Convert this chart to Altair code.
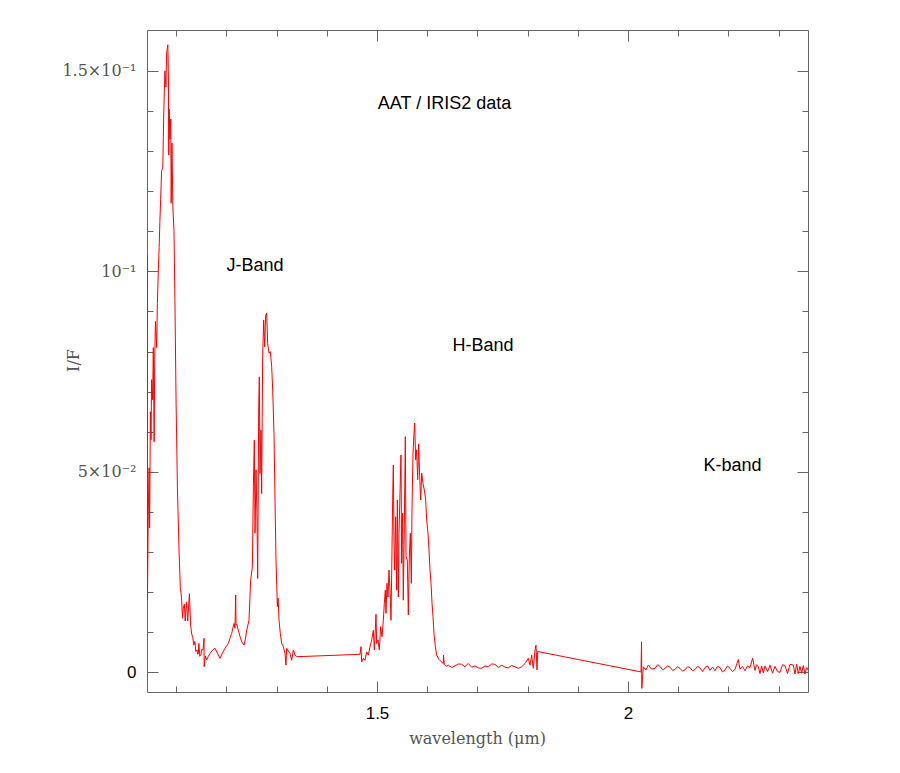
import altair as alt
import pandas as pd

# ---- spectrum (wavelength in micron, I/F) ----
wl = [
    1.0420, 1.0423, 1.0427, 1.0444, 1.0460, 1.0470, 1.0486, 1.0498, 1.0510, 1.0530,
    1.0544, 1.0560, 1.0572, 1.0586, 1.0610, 1.0625, 1.0643, 1.0660, 1.0675, 1.0690,
    1.0709, 1.0733, 1.0751, 1.0775, 1.0795, 1.0809, 1.0833, 1.0845, 1.0851, 1.0859,
    1.0875, 1.0891, 1.0899, 1.0916, 1.0932, 1.0956, 1.0974, 1.0998, 1.1024, 1.1056,
    1.1082, 1.1106, 1.1125, 1.1140, 1.1163, 1.1179, 1.1205, 1.1229, 1.1263, 1.1287,
    1.1310, 1.1329, 1.1350, 1.1371, 1.1390, 1.1412, 1.1430,
    1.1441, 1.1452, 1.1470, 1.1494, 1.1507, 1.1534, 1.1554, 1.1557, 1.1578, 1.1607,
    1.1640, 1.1673, 1.1720, 1.1773, 1.1820, 1.1873, 1.1920, 1.1972, 1.2038, 1.2070,
    1.2105, 1.2151, 1.2170, 1.2185, 1.2192, 1.2205, 1.2238, 1.2270, 1.2304, 1.2351,
    1.2380, 1.2404, 1.2450, 1.2483, 1.2517, 1.2537, 1.2556, 1.2570, 1.2590, 1.2610,
    1.2623, 1.2643, 1.2656, 1.2669, 1.2689, 1.2702, 1.2722, 1.2742, 1.2762, 1.2782,
    1.2802, 1.2822, 1.2849, 1.2875, 1.2902, 1.2922, 1.2948, 1.2968, 1.2988, 1.3015,
    1.3030, 1.3048, 1.3074, 1.3101, 1.3134, 1.3167, 1.3187, 1.3200, 1.3220, 1.3267,
    1.3300, 1.3333, 1.3367, 1.3406,
    1.4661, 1.4681, 1.4695, 1.4728, 1.4761, 1.4794, 1.4827, 1.4861, 1.4894, 1.4927,
    1.4947, 1.4980, 1.4993, 1.5020, 1.5046, 1.5073, 1.5100, 1.5126, 1.5146, 1.5166,
    1.5179, 1.5199, 1.5219, 1.5239, 1.5259, 1.5279, 1.5299, 1.5312, 1.5325, 1.5339,
    1.5352, 1.5372, 1.5392, 1.5405, 1.5425, 1.5438, 1.5458, 1.5478, 1.5491, 1.5511,
    1.5524, 1.5544, 1.5564, 1.5578, 1.5604, 1.5624, 1.5644, 1.5664, 1.5684, 1.5697,
    1.5717, 1.5737, 1.5750, 1.5770, 1.5790, 1.5810, 1.5830, 1.5850, 1.5870, 1.5890,
    1.5916, 1.5943, 1.5970, 1.5989, 1.6016, 1.6036, 1.6056, 1.6076, 1.6096, 1.6116,
    1.6135, 1.6162, 1.6189, 1.6228, 1.6268,
    1.6321, 1.6325, 1.6340, 1.6380, 1.6421, 1.6490, 1.6554, 1.6620, 1.6687, 1.6750,
    1.6819, 1.6885, 1.6952, 1.7020, 1.7085, 1.7150, 1.7218, 1.7285, 1.7351, 1.7420,
    1.7483, 1.7550, 1.7616, 1.7680, 1.7749, 1.7815, 1.7882, 1.7948, 1.8014, 1.8048,
    1.8081, 1.8114, 1.8147, 1.8167, 1.8187, 1.8201,
    2.0259, 2.0270, 2.0275, 2.0305, 2.0355, 2.0405, 2.0470, 2.0538, 2.0590, 2.0637,
    2.0690, 2.0737, 2.0790, 2.0837, 2.0890, 2.0936, 2.0985, 2.1036, 2.1085, 2.1135,
    2.1185, 2.1235, 2.1285, 2.1335, 2.1385, 2.1434, 2.1485, 2.1534, 2.1585, 2.1633,
    2.1683, 2.1733, 2.1783, 2.1833, 2.1883, 2.1932, 2.1982, 2.2032, 2.2080, 2.2131,
    2.2198, 2.2231, 2.2280, 2.2331, 2.2380, 2.2430, 2.2483, 2.2530, 2.2560, 2.2596,
    2.2630, 2.2663, 2.2696, 2.2729, 2.2780, 2.2829, 2.2880, 2.2928, 2.2978, 2.3028,
    2.3078, 2.3127, 2.3177, 2.3227, 2.3293, 2.3327, 2.3360, 2.3393, 2.3426, 2.3460,
    2.3492, 2.3525, 2.3559, 2.3590,
]
i_over_f = [
    0.0380, 0.1040, 0.0180, 0.0400, 0.0510, 0.0360, 0.0650, 0.0580, 0.0730, 0.0680,
    0.0810, 0.0575, 0.0780, 0.0875, 0.0810, 0.0920, 0.1000, 0.1060, 0.1125, 0.1180,
    0.1250, 0.1260, 0.1390, 0.1500, 0.1460, 0.1545, 0.1565, 0.1480, 0.1290, 0.1405,
    0.1330, 0.1380, 0.1170, 0.1320, 0.1165, 0.1100, 0.0927, 0.0668, 0.0460, 0.0305,
    0.0212, 0.0186, 0.0135, 0.0160, 0.0170, 0.0128, 0.0176, 0.0128, 0.0196, 0.0117,
    0.0095, 0.0087, 0.0068, 0.0077, 0.0052, 0.0056, 0.0045,
    0.0047, 0.0072, 0.0040, 0.0045, 0.0057, 0.0056, 0.0085, 0.0014, 0.0041, 0.0031,
    0.0040, 0.0047, 0.0055, 0.0060, 0.0048, 0.0035, 0.0048, 0.0060, 0.0072, 0.0085,
    0.0097, 0.0122, 0.0110, 0.0193, 0.0118, 0.0120, 0.0105, 0.0090, 0.0076, 0.0068,
    0.0085, 0.0105, 0.0130, 0.0230, 0.0263, 0.0463, 0.0579, 0.0347, 0.0505, 0.0380,
    0.0234, 0.0662, 0.0737, 0.0496, 0.0604, 0.0446, 0.0787, 0.0879, 0.0812, 0.0891,
    0.0896, 0.0820, 0.0796, 0.0800, 0.0762, 0.0704, 0.0596, 0.0430, 0.0280, 0.0164,
    0.0185, 0.0130, 0.0097, 0.0072, 0.0064, 0.0047, 0.0018, 0.0060, 0.0056, 0.0047,
    0.0030, 0.0056, 0.0043, 0.0039,
    0.0045, 0.0064, 0.0026, 0.0035, 0.0030, 0.0051, 0.0043, 0.0064, 0.0081, 0.0105,
    0.0056, 0.0145, 0.0072, 0.0081, 0.0056, 0.0114, 0.0089, 0.0130, 0.0172, 0.0205,
    0.0147, 0.0222, 0.0188, 0.0255, 0.0205, 0.0130, 0.0305, 0.0430, 0.0517, 0.0322,
    0.0255, 0.0388, 0.0205, 0.0430, 0.0188, 0.0347, 0.0446, 0.0542, 0.0272, 0.0397,
    0.0180, 0.0363, 0.0588, 0.0289, 0.0280, 0.0143, 0.0290, 0.0347, 0.0222, 0.0405,
    0.0546, 0.0596, 0.0622, 0.0530, 0.0555, 0.0480, 0.0570, 0.0488, 0.0430, 0.0497,
    0.0471, 0.0455, 0.0430, 0.0380, 0.0347, 0.0305, 0.0255, 0.0222, 0.0172, 0.0139,
    0.0097, 0.0064, 0.0043, 0.0033, 0.0028,
    0.0022, 0.0043, 0.0020, 0.0015, 0.0018, 0.0012, 0.0016, 0.0021, 0.0020, 0.0014,
    0.0022, 0.0013, 0.0016, 0.0011, 0.0010, 0.0016, 0.0014, 0.0021, 0.0020, 0.0012,
    0.0018, 0.0013, 0.0011, 0.0017, 0.0014, 0.0010, 0.0014, 0.0022, 0.0035, 0.0018,
    0.0043, 0.0010, 0.0056, 0.0068, 0.0006, 0.0052,
    0.0001, 0.0076, -0.0040, 0.0014, 0.0006, 0.0018, 0.0008, 0.0010, 0.0019, 0.0015,
    0.0006, 0.0010, 0.0016, 0.0013, 0.0005, 0.0007, 0.0014, 0.0010, 0.0003, 0.0006,
    0.0014, 0.0012, 0.0004, 0.0007, 0.0015, 0.0011, 0.0002, 0.0012, 0.0016, 0.0005,
    0.0013, 0.0004, 0.0015, 0.0012, 0.0001, 0.0006, 0.0016, 0.0010, 0.0002, 0.0007,
    0.0032, 0.0008, 0.0015, 0.0004, 0.0016, 0.0012, 0.0035, 0.0005, 0.0019, 0.0014,
    -0.0003, 0.0016, -0.0001, 0.0016, 0.0002, 0.0018, -0.0002, 0.0015, 0.0002, 0.0000,
    0.0019, 0.0017, -0.0003, 0.0020, 0.0018, -0.0004, 0.0020, -0.0003, 0.0015, -0.0002,
    0.0017, -0.0004, 0.0012, 0.0005,
]

# ---- annotations ----
note_text = ["AAT / IRIS2 data", "J-Band", "H-Band", "K-band"]
note_wl = [1.6345, 1.2570, 1.7112, 2.2082]
note_if = [0.1417, 0.1013, 0.0814, 0.0514]

# ---- axis ticks ----
x_major = [1.5, 2.0]
x_minor = [1.1, 1.2, 1.3, 1.4, 1.6, 1.7, 1.8, 1.9, 2.1, 2.2, 2.3]
y_major = [0.0, 0.05, 0.10, 0.15]
y_minor = [0.01, 0.02, 0.03, 0.04, 0.06, 0.07, 0.08, 0.09, 0.11, 0.12, 0.13, 0.14]
x_domain = [1.0418, 2.3586]
y_domain = [-0.0049, 0.1602]

df = pd.DataFrame({"wl": wl, "IF": i_over_f})
notes = pd.DataFrame({"wl": note_wl, "IF": note_if, "text": note_text})
dummy = pd.DataFrame({"wl": [1.5], "IF": [0.05]})

TICK = "#666666"
SERIF = "DejaVu Serif"
xs = alt.Scale(domain=x_domain, nice=False, zero=False)
ys = alt.Scale(domain=y_domain, nice=False, zero=False)

y_label_expr = (
    "datum.value < 0.01 ? '0' : datum.value < 0.07 ? '5×10⁻²' : "
    "datum.value < 0.12 ? '10⁻¹' : '1.5×10⁻¹'"
)

line = alt.Chart(df).mark_line(color="#ff0000", strokeWidth=1, clip=True).encode(
    x=alt.X("wl:Q", scale=xs, sort=None, axis=alt.Axis(
        orient="bottom", values=x_major, ticks=False, domain=False, grid=False,
        labelExpr="datum.value > 1.9 ? '2' : '1.5'",
        labelFont="Liberation Sans", labelFontSize=17, labelColor="black",
        labelPadding=13,
        title="wavelength (μm)", titleFont=SERIF, titleFontSize=16,
        titleFontWeight="normal", titleColor="#555555",
        titleX=330, titleY=46, titleBaseline="middle", titleAlign="center")),
    y=alt.Y("IF:Q", scale=ys, axis=alt.Axis(
        orient="left", values=y_major, ticks=False, domain=False, grid=False,
        labelExpr=y_label_expr,
        labelFont={"condition": {"test": "datum.value < 0.01", "value": "Liberation Sans"},
                   "value": SERIF},
        labelColor={"condition": {"test": "datum.value < 0.01", "value": "#000000"},
                    "value": "#555555"},
        labelFontSize={"condition": {"test": "datum.value < 0.01", "value": 17},
                       "value": 16},
        labelPadding=11,
        title="I/F", titleFont=SERIF, titleFontSize=16,
        titleFontWeight="normal", titleColor="#555555", titleAngle=270,
        titleX=-74, titleY=330, titleBaseline="middle", titleAlign="center")),
)

notes_layer = alt.Chart(notes).mark_text(
    font="Liberation Sans", fontSize=18, color="black", align="center", baseline="middle"
).encode(
    x=alt.X("wl:Q", scale=xs, axis=None),
    y=alt.Y("IF:Q", scale=ys, axis=None),
    text="text:N",
)


def tick_layer(xvals, yvals, xorient, yorient, size):
    common = dict(labels=False, domain=False, grid=False, title="",
                  tickColor=TICK, tickWidth=1, tickSize=size, offset=-size)
    return alt.Chart(dummy).mark_point(opacity=0).encode(
        x=alt.X("wl:Q", scale=xs, axis=alt.Axis(orient=xorient, values=xvals, **common)),
        y=alt.Y("IF:Q", scale=ys, axis=alt.Axis(orient=yorient, values=yvals, **common)),
    )


chart = alt.layer(
    line,
    tick_layer(x_minor, y_minor, "bottom", "left", 6),
    tick_layer(x_major, y_major, "bottom", "left", 11),
    tick_layer(x_minor, y_minor, "top", "right", 6),
    tick_layer(x_major, y_major, "top", "right", 11),
    notes_layer,
).resolve_axis(x="independent", y="independent").properties(
    width=661, height=662,
    autosize=alt.AutoSizeParams(type="none"),
    padding={"left": 139, "top": 22, "right": 84, "bottom": 73},
    background="white",
).configure_view(stroke=TICK, strokeWidth=1)

chart.save("out.html", embed_options={"renderer": "svg", "actions": False})
